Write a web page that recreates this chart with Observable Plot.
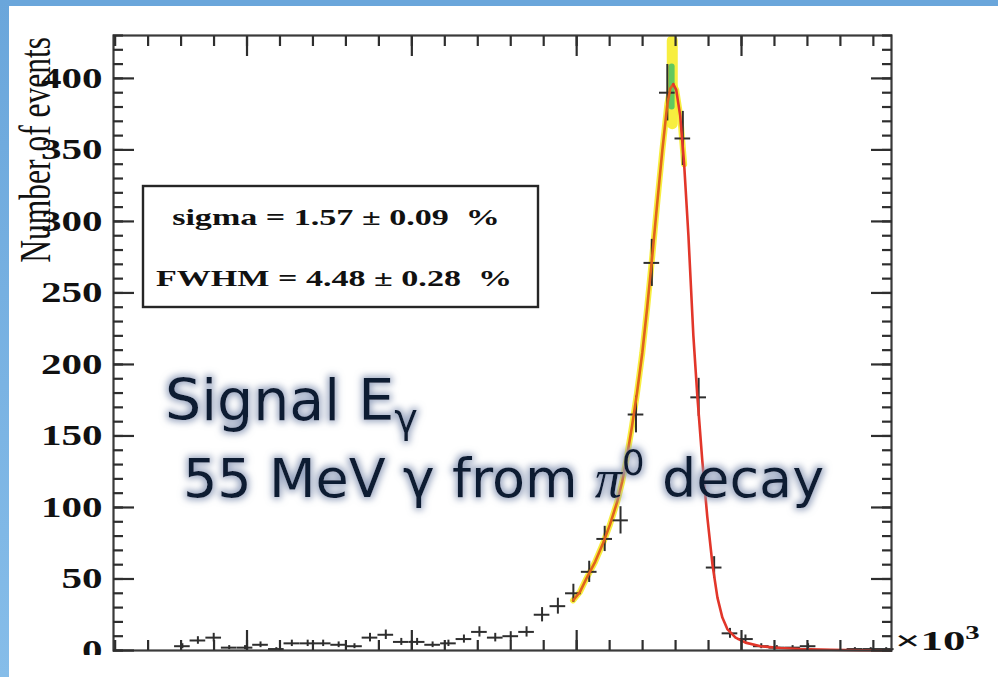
<!DOCTYPE html>
<html><head><meta charset="utf-8">
<script src="https://cdn.jsdelivr.net/npm/d3@7"></script>
<script src="https://cdn.jsdelivr.net/npm/@observablehq/plot@0.6"></script>
<style>
html,body{margin:0;padding:0;background:#fff;}
#wrap{position:relative;width:998px;height:677px;overflow:hidden;background:#fff;}
#wrap svg{position:absolute;left:0;top:0;}
.strip{position:absolute;}
</style></head><body>
<div id="wrap"></div>
<script>
// ---- data ----
const binCenters = [36.14, 36.62, 37.09, 37.56, 38.04, 38.51, 38.99, 39.46, 39.94, 40.41,
  40.89, 41.36, 41.84, 42.31, 42.78, 43.26, 43.73, 44.21, 44.68, 45.16,
  45.63, 46.11, 46.58, 47.05, 47.53, 48.00, 48.48, 48.95, 49.43, 49.90,
  50.38, 50.85, 51.33, 51.80, 52.28, 52.75, 53.22, 53.70, 54.17, 54.65,
  55.12, 55.60, 56.07, 56.55, 57.02, 57.50, 57.97, 58.44, 58.92, 59.39];
const counts = [0, 0, 0, 0, 3, 7, 9, 2, 2, 4,
  1, 5, 5, 5, 4, 3, 9, 11, 6, 6,
  4, 5, 8, 13, 9, 10, 13, 25, 31, 40,
  55, 78, 91, 165, 271, 390, 358, 177, 58, 12,
  8, 3, 2, 2, 3, 0, 0, 1, 1, 1];
const binWidth = 0.475;

const fitX = [49.89, 50.10, 50.31, 50.56, 50.80, 51.01, 51.23, 51.38, 51.53, 51.68,
  51.83, 51.99, 52.14, 52.29, 52.44, 52.60, 52.75, 52.84, 52.93, 53.02,
  53.14, 53.26, 53.39, 53.54, 53.66, 53.81, 53.96, 54.12, 54.27, 54.42,
  54.57, 54.82, 55.12, 55.58, 56.18, 56.79, 57.71, 58.62, 59.53];
const fitY = [35, 41, 51, 62, 75, 88, 104, 118, 136, 157,
  180, 208, 240, 275, 312, 350, 382, 393, 396, 392,
  374, 340, 290, 220, 178, 133, 94, 60, 37, 23,
  15, 9, 5.5, 3, 1.8, 1, 0.5, 0.2, 0.1];

const peakBandX = [52.90], peakBandLow = [368], peakBandHigh = [426];
const peakCoreX = [52.88], peakCoreLow = [380], peakCoreHigh = [408];

const xDomain = [35.95, 59.55];
const yDomain = [0, 430];
const xMajor = [40, 45, 50, 55];
const xMinor = d3.range(36, 60, 1);
const yMajor = [0, 50, 100, 150, 200, 250, 300, 350, 400];
const yMinor = d3.range(0, 431, 10);

const statsLines = ["sigma = 1.57 \u00b1 0.09 \u00a0%", "FWHM = 4.48 \u00b1 0.28 \u00a0%"];
const yTitle = "Number of events";

(function draw() {
  const bins = binCenters.map((x, i) => ({x, n: counts[i]})).filter(d => d.n > 0);
  const fit = fitX.map((x, i) => ({x, y: fitY[i]}));
  const peakBand = peakBandX.map((x, i) => ({x, lo: peakBandLow[i], hi: peakBandHigh[i]}));
  const peakCore = peakCoreX.map((x, i) => ({x, lo: peakCoreLow[i], hi: peakCoreHigh[i]}));
  const ink = "#2e2e2e";
  const blank = () => "";
  const serif = "'Liberation Serif', 'Times New Roman', serif";

  const chart = Plot.plot({
    width: 998, height: 677,
    marginLeft: 113, marginRight: 107, marginTop: 35, marginBottom: 27,
    style: {background: "transparent", overflow: "visible"},
    x: {domain: xDomain, label: null},
    y: {domain: yDomain, label: null},
    marks: [
      Plot.line(fit.filter(d => d.x <= 53.3), {x: "x", y: "y", stroke: "#f6ec2a", strokeWidth: 6, strokeLinecap: "round", strokeOpacity: 0.9}),
      Plot.ruleX(peakBand, {x: "x", y1: "lo", y2: "hi", stroke: "#f6ec2a", strokeWidth: 11, strokeLinecap: "round", strokeOpacity: 0.9}),
      Plot.ruleX(peakCore, {x: "x", y1: "lo", y2: "hi", stroke: "#62c85e", strokeWidth: 6, strokeLinecap: "round"}),
      Plot.ruleX(bins, {x: "x", y1: d => Math.max(0, d.n - Math.sqrt(d.n)), y2: d => d.n + Math.sqrt(d.n), stroke: ink, strokeWidth: 2}),
      Plot.ruleY(bins, {y: "n", x1: d => d.x - binWidth / 2, x2: d => d.x + binWidth / 2, stroke: ink, strokeWidth: 2}),
      Plot.line(fit.filter(d => d.x <= 52.95), {x: "x", y: "y", stroke: "#e0621c", strokeWidth: 2.6}),
      Plot.line(fit.filter(d => d.x >= 52.93), {x: "x", y: "y", stroke: "#e2362a", strokeWidth: 2.6}),
      Plot.frame({stroke: "#3a3a3a", strokeWidth: 2.2}),
      Plot.axisY({anchor: "left", ticks: yMajor, tickSize: -21, tickFormat: blank, stroke: ink, strokeWidth: 2.2, label: null}),
      Plot.axisY({anchor: "left", ticks: yMinor, tickSize: -10, tickFormat: blank, stroke: ink, strokeWidth: 2.2, label: null}),
      Plot.axisY({anchor: "right", ticks: yMajor, tickSize: -21, tickFormat: blank, stroke: ink, strokeWidth: 2.2, label: null}),
      Plot.axisY({anchor: "right", ticks: yMinor, tickSize: -10, tickFormat: blank, stroke: ink, strokeWidth: 2.2, label: null}),
      Plot.axisX({anchor: "bottom", ticks: xMajor, tickSize: -20, tickFormat: blank, stroke: ink, strokeWidth: 2.2, label: null}),
      Plot.axisX({anchor: "bottom", ticks: xMinor, tickSize: -10, tickFormat: blank, stroke: ink, strokeWidth: 2.2, label: null}),
      Plot.axisX({anchor: "top", ticks: xMajor, tickSize: -20, tickFormat: blank, stroke: ink, strokeWidth: 2.2, label: null}),
      Plot.axisX({anchor: "top", ticks: xMinor, tickSize: -10, tickFormat: blank, stroke: ink, strokeWidth: 2.2, label: null}),
      Plot.axisY({anchor: "left", ticks: yMajor, tickSize: 0, tickPadding: 11, tickFormat: d => String(d),
        fontSize: 29, fontWeight: "bold", fontFamily: serif, fill: "#111", label: null})
    ]
  });
  const wrap = document.getElementById("wrap");
  wrap.appendChild(chart);

  d3.select(chart).selectAll("text").filter(function() { return /^\d+$/.test(this.textContent); })
    .attr("textLength", function() { return this.textContent.length * 20.5; })
    .attr("lengthAdjust", "spacingAndGlyphs");

  const cover = document.createElement("div");
  cover.style.cssText = "position:absolute;left:0;top:655px;width:998px;height:22px;background:#fff;";
  wrap.appendChild(cover);

  const ov = d3.select(wrap).append("svg").attr("width", 998).attr("height", 677);
  const defs = ov.append("defs");
  const f = defs.append("filter").attr("id", "glow").attr("x", "-10%").attr("y", "-40%").attr("width", "120%").attr("height", "180%");
  f.append("feMorphology").attr("in", "SourceAlpha").attr("operator", "dilate").attr("radius", 2).attr("result", "d");
  f.append("feGaussianBlur").attr("in", "d").attr("stdDeviation", 3.5).attr("result", "b");
  f.append("feFlood").attr("flood-color", "#8d9bb8").attr("flood-opacity", 0.9);
  f.append("feComposite").attr("in2", "b").attr("operator", "in").attr("result", "g");
  const mg = f.append("feMerge");
  mg.append("feMergeNode").attr("in", "g");
  mg.append("feMergeNode").attr("in", "SourceGraphic");

  ov.append("text").attr("transform", "translate(50,37) scale(1.4,1) rotate(-90)")
    .attr("text-anchor", "end").attr("font-family", serif).attr("font-size", 31.5).attr("fill", "#111")
    .text(yTitle);

  ov.append("rect").attr("x", 143).attr("y", 186).attr("width", 395).attr("height", 121)
    .attr("fill", "#fff").attr("stroke", "#262626").attr("stroke-width", 2.4);
  [[336, 225], [334, 286]].forEach(([cx, by], i) => {
    ov.append("text").attr("transform", `translate(${cx},${by}) scale(1.42,1)`)
      .attr("text-anchor", "middle").attr("font-family", serif).attr("font-weight", "bold")
      .attr("font-size", 24).attr("fill", "#111").text(statsLines[i]);
  });

  const xt = ov.append("text").attr("transform", "translate(895,650) scale(1.6,1)")
    .attr("font-family", serif).attr("font-weight", "bold").attr("font-size", 28).attr("fill", "#111");
  xt.append("tspan").text("\u00d710");
  xt.append("tspan").attr("dy", -11).attr("font-size", 18).text("3");

  const sans = "'DejaVu Sans', Verdana, sans-serif";
  const t1 = ov.append("text").attr("x", 165).attr("y", 420).attr("font-family", sans).attr("font-size", 57)
    .attr("fill", "#0f1a33").attr("filter", "url(#glow)");
  t1.append("tspan").text("Signal E");
  t1.append("tspan").attr("dy", 12).attr("font-size", 40).text("\u03b3");
  const t2 = ov.append("text").attr("x", 183).attr("y", 497).attr("font-family", sans).attr("font-size", 54)
    .attr("fill", "#0f1a33").attr("filter", "url(#glow)");
  t2.append("tspan").text("55 MeV \u03b3 from ");
  t2.append("tspan").attr("font-family", serif).attr("font-style", "italic").text("\u03c0");
  t2.append("tspan").attr("dy", -22).attr("font-size", 36).text("0");
  t2.append("tspan").attr("dy", 22).text("\u00a0decay");

  const stripTop = document.createElement("div");
  stripTop.className = "strip";
  stripTop.style.cssText += "left:0;top:0;width:998px;height:6px;background:#6aa6db;";
  wrap.appendChild(stripTop);
  const stripLeft = document.createElement("div");
  stripLeft.className = "strip";
  stripLeft.style.cssText += "left:0;top:0;width:9px;height:677px;background:linear-gradient(#6aa6db,#86bde9);";
  wrap.appendChild(stripLeft);
})();
</script>
</body></html>
